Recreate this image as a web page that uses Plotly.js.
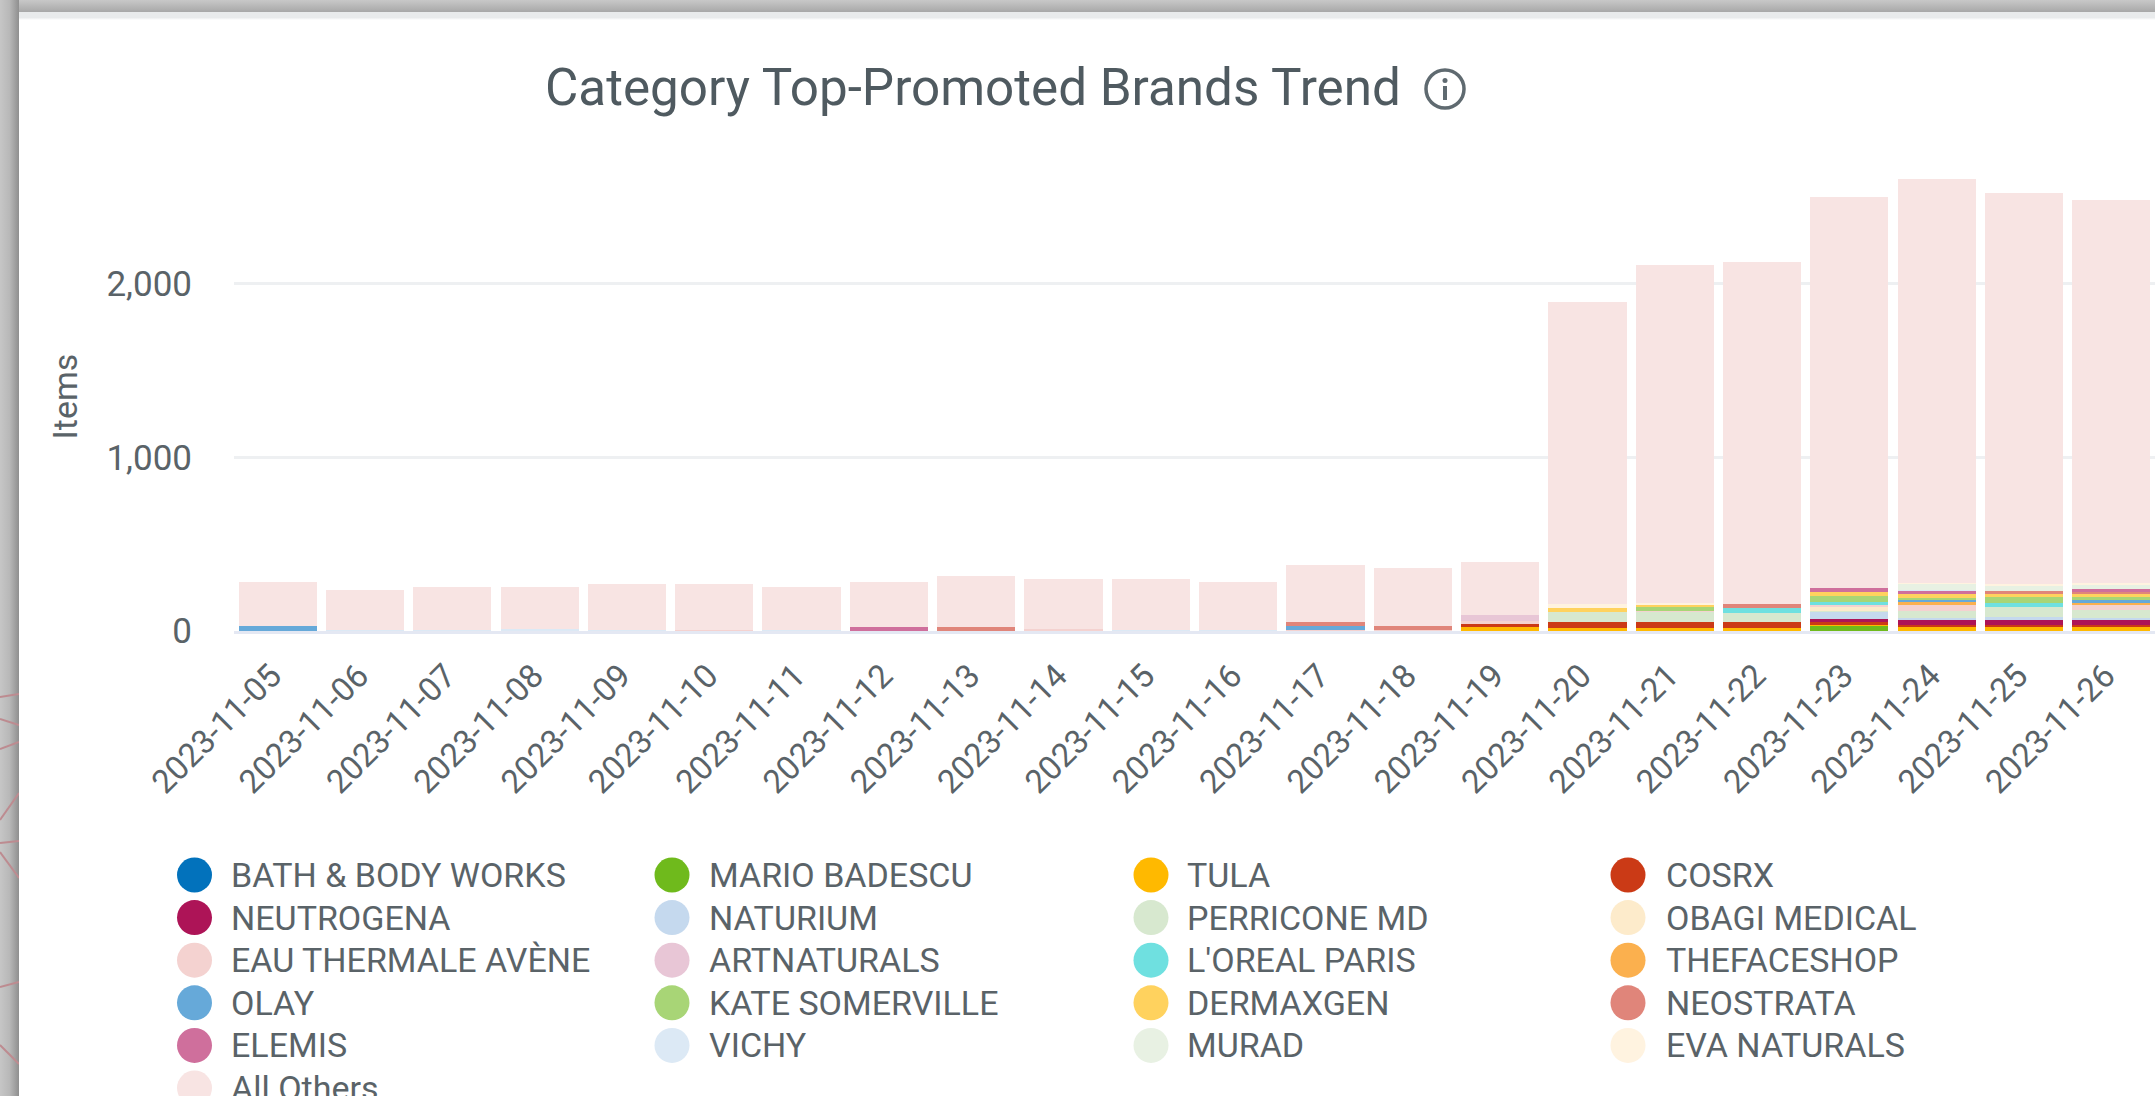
<!DOCTYPE html>
<html>
<head>
<meta charset="utf-8">
<title>Category Top-Promoted Brands Trend</title>
<script src="https://cdn.plot.ly/plotly-3.0.1.min.js"></script>
<style>
  html, body { margin: 0; padding: 0; background: #fff; overflow: hidden; }
  #chart { position: absolute; left: 0; top: 0; width: 2155px; height: 1096px; }
  #frameTop { position: absolute; left: 0; top: 0; width: 2155px; height: 12px;
    background: linear-gradient(to bottom, #c8c8c8, #a8a8a8); }
  #frameSheen { position: absolute; left: 19px; top: 12px; width: 2136px; height: 8px;
    background: linear-gradient(to bottom, #e9ebec 70%, #ffffff); }
  #frameLeft { position: absolute; left: 0; top: 0; width: 19px; height: 1096px;
    background: linear-gradient(to right, #c6c6c6, #b8b8b8 50%, #8f8f8f); }
  #strands { position: absolute; left: 0; top: 0; width: 19px; height: 1096px; }
</style>
</head>
<body>
<div id="chart"></div>
<div id="frameSheen"></div>
<div id="frameTop"></div>
<div id="frameLeft"></div>
<svg id="strands" viewBox="0 0 19 1096">
  <g stroke="#bd8b90" stroke-width="2" fill="none">
    <line x1="0" y1="697" x2="19" y2="694"/>
    <line x1="0" y1="719" x2="19" y2="725"/>
    <line x1="0" y1="749" x2="19" y2="742"/>
    <line x1="0" y1="820" x2="19" y2="793"/>
    <line x1="0" y1="843" x2="19" y2="841"/>
    <line x1="0" y1="852" x2="19" y2="878"/>
    <line x1="0" y1="987" x2="19" y2="982"/>
    <line x1="0" y1="1045" x2="19" y2="1064"/>
  </g>
</svg>
<script>
// Daily item counts per brand, 2023-11-05 through 2023-11-26.
const dates = ["2023-11-05","2023-11-06","2023-11-07","2023-11-08","2023-11-09","2023-11-10","2023-11-11","2023-11-12","2023-11-13","2023-11-14","2023-11-15","2023-11-16","2023-11-17","2023-11-18","2023-11-19","2023-11-20","2023-11-21","2023-11-22","2023-11-23","2023-11-24","2023-11-25","2023-11-26"];

const bathBodyWorks = [0,0,0,0,0,0,0,0,0,0,0,0,0,0,0,0,0,0,0,0,0,0];
const marioBadescu  = [0,0,0,0,0,0,0,0,0,0,0,0,0,0,0,0,0,0,29,0,0,0];
const tula          = [0,0,0,0,0,0,0,0,0,0,0,0,0,0,21,19,19,19,8,21,21,21];
const cosrx         = [0,0,0,0,0,0,0,0,0,0,0,0,0,0,17,31,31,31,13,13,13,13];
const neutrogena    = [0,0,0,0,0,0,0,0,0,0,0,0,0,0,0,0,0,0,19,35,35,35];
const naturium      = [0,0,0,0,0,0,0,0,0,0,0,0,0,0,0,0,0,0,42,8,10,8];
const perriconeMd   = [0,0,0,0,0,0,0,0,0,0,0,0,0,0,0,57,60,55,6,40,58,42];
const obagiMedical  = [0,0,0,0,0,0,0,0,0,0,0,0,0,0,0,0,0,0,22,0,0,0];
const eauThermale   = [0,0,0,0,0,6,0,0,0,10,0,0,8,8,21,0,6,0,11,38,0,34];
const artnaturals   = [0,0,0,0,0,0,0,0,0,0,0,0,0,0,33,0,0,0,0,0,0,0];
const lorealParis   = [0,0,0,0,0,0,0,0,0,0,0,0,0,0,0,0,0,27,15,0,25,0];
const thefaceshop   = [0,0,0,0,0,0,0,0,0,0,0,0,0,0,0,0,0,0,0,10,0,10];
const olay          = [29,0,0,0,0,0,0,0,0,0,0,0,19,0,0,0,0,0,0,14,0,14];
const kateSomerville= [0,0,0,0,0,0,0,0,0,0,0,0,0,0,0,0,20,0,36,14,33,18];
const dermaxgen     = [0,0,0,0,0,0,0,0,0,0,0,0,0,0,0,25,15,0,23,23,23,19];
const neostrata     = [0,0,0,0,0,0,0,0,25,0,0,0,25,21,0,0,0,23,0,0,10,8];
const elemis        = [0,0,0,0,0,0,0,25,0,0,0,0,0,0,0,0,0,0,25,15,0,18];
const vichy         = [0,8,6,10,6,0,6,0,0,0,6,6,0,0,0,0,0,0,0,4,0,0];
const murad         = [0,0,0,0,0,0,0,0,0,0,0,0,0,0,0,0,0,0,0,38,34,24];
const evaNaturals   = [0,0,0,0,0,0,0,0,0,0,0,0,0,0,0,23,13,0,0,6,8,12];
const allOthers     = [256,228,246,242,263,263,246,260,293,290,294,279,328,336,308,1743,1948,1973,2251,2325,2255,2209];

const brandNames = ["BATH & BODY WORKS","MARIO BADESCU","TULA","COSRX","NEUTROGENA","NATURIUM","PERRICONE MD","OBAGI MEDICAL","EAU THERMALE AVÈNE","ARTNATURALS","L'OREAL PARIS","THEFACESHOP","OLAY","KATE SOMERVILLE","DERMAXGEN","NEOSTRATA","ELEMIS","VICHY","MURAD","EVA NATURALS","All Others"];
const brandColors = ["#0272bc","#6fba1c","#ffb900","#cb3a16","#ad1457","#c5d9ee","#d7e8cf","#fdebcb","#f4d2d0","#e8c6d6","#6fe0e0","#fbb04e","#66a9d9","#a8d576","#ffd25e","#e0857a","#cf6f9c","#dce9f5","#e8f1e3","#fff3e0","#f8e4e3"];
const brandValues = [bathBodyWorks,marioBadescu,tula,cosrx,neutrogena,naturium,perriconeMd,obagiMedical,eauThermale,artnaturals,lorealParis,thefaceshop,olay,kateSomerville,dermaxgen,neostrata,elemis,vichy,murad,evaNaturals,allOthers];

const yTicks = [0, 1000, 2000];
const yTickLabels = ["0", "1,000", "2,000"];

// Plot box in page pixels, and helpers that turn page pixels into paper fractions.
const W = 2155, H = 1096;
const plot = { left: 234, right: 2155, top: 162, bottom: 631 };
const px = x => (x - plot.left) / (plot.right - plot.left);
const py = y => (plot.bottom - y) / (plot.bottom - plot.top);

const font = "Roboto, sans-serif";
const inkText = "#5a6368";

const traces = brandNames.map((name, i) => ({
  type: "bar",
  name: name,
  x: dates,
  y: brandValues[i],
  marker: { color: brandColors[i], line: { width: 0 } },
  showlegend: false,
  hoverinfo: "x+y+name"
}));

// Hand-placed key: four columns filled row by row, dots sized to suit the large type.
const keyDotX = [194.5, 672, 1151, 1628];
const keyTextX = [229, 706.5, 1185, 1663.5];
const keyRowY = row => 875 + row * 42.6;
const shapes = [];
const annotations = [];
brandNames.forEach((name, i) => {
  const col = i % 4, row = Math.floor(i / 4);
  const r = 17.5, cx = keyDotX[col], cy = keyRowY(row);
  shapes.push({ type: "circle", xref: "paper", yref: "paper",
    x0: px(cx - r), x1: px(cx + r), y0: py(cy + r), y1: py(cy - r),
    fillcolor: brandColors[i], line: { width: 0 } });
  annotations.push({ xref: "paper", yref: "paper", x: px(keyTextX[col]), y: py(cy),
    xanchor: "left", yanchor: "middle", showarrow: false, text: name,
    font: { family: font, size: 34, color: inkText } });
});

// Information icon beside the heading.
const iconX = 1445, iconY = 89;
shapes.push({ type: "circle", xref: "paper", yref: "paper",
  x0: px(iconX - 19), x1: px(iconX + 19), y0: py(iconY + 19), y1: py(iconY - 19),
  fillcolor: "rgba(0,0,0,0)", line: { color: "#5f6a70", width: 3.5 } });
shapes.push({ type: "line", xref: "paper", yref: "paper",
  x0: px(iconX), x1: px(iconX), y0: py(iconY + 11), y1: py(iconY - 3),
  line: { color: "#5f6a70", width: 4 } });
shapes.push({ type: "circle", xref: "paper", yref: "paper",
  x0: px(iconX - 2.5), x1: px(iconX + 2.5), y0: py(iconY - 6), y1: py(iconY - 11),
  fillcolor: "#5f6a70", line: { width: 0 } });

const layout = {
  width: W, height: H,
  margin: { l: plot.left, r: W - plot.right, t: plot.top, b: H - plot.bottom, pad: 0 },
  paper_bgcolor: "rgba(0,0,0,0)",
  plot_bgcolor: "rgba(0,0,0,0)",
  barmode: "stack",
  bargap: 0.105,
  showlegend: false,
  title: {
    text: "Category Top-Promoted Brands Trend",
    xref: "container", yref: "container",
    x: 545 / W, xanchor: "left",
    y: 1 - 87 / H, yanchor: "middle",
    font: { family: font, size: 51.2, color: "#4f5a60" }
  },
  xaxis: {
    type: "category",
    categoryorder: "array",
    categoryarray: dates,
    tickangle: -45,
    ticks: "",
    ticklabelstandoff: 9,
    ticklabelshift: -6,
    tickfont: { family: font, size: 33, color: inkText },
    showgrid: false,
    zeroline: false,
    showline: true,
    linecolor: "#e4e8f3",
    linewidth: 3
  },
  yaxis: {
    range: [0, 2703],
    tickmode: "array",
    tickvals: yTicks,
    ticktext: yTickLabels,
    ticks: "",
    ticklabelstandoff: 41,
    tickfont: { family: font, size: 35, color: inkText },
    showgrid: true,
    gridcolor: "#eef0f2",
    gridwidth: 2.5,
    zeroline: false,
    showline: false,
    title: { text: "Items", standoff: 18, font: { family: font, size: 34, color: inkText } }
  },
  shapes: shapes,
  annotations: annotations
};

Plotly.newPlot("chart", traces, layout, { displayModeBar: false, responsive: false });
</script>
</body>
</html>
